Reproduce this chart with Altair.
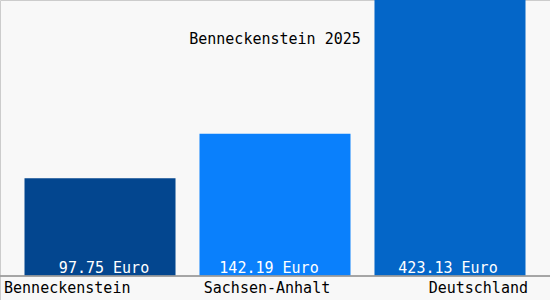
import altair as alt
import pandas as pd

categories = ["Benneckenstein", "Sachsen-Anhalt", "Deutschland"]
values = [97.75, 142.19, 423.13]
value_labels = ["97.75 Euro", "142.19 Euro", "423.13 Euro"]
colors = ["#03468f", "#0a80fc", "#0466c8"]
title_text = "Benneckenstein 2025"

df = pd.DataFrame({"cat": categories, "value": values, "label": value_labels})

FONT = "DejaVu Sans Mono"

x = alt.X("cat:N", sort=categories, axis=None,
          scale=alt.Scale(paddingInner=0.137, paddingOuter=0.14))
yscale = alt.Scale(domain=[-24, 276], nice=False, zero=False)

base = alt.Chart(df)

bars = base.mark_bar(clip=True).encode(
    x=x,
    y=alt.Y("value:Q", scale=yscale, axis=None),
    y2=alt.datum(0),
    color=alt.Color("cat:N", scale=alt.Scale(domain=categories, range=colors), legend=None),
)

baseline = base.mark_rule(color="#9a9a9a", strokeWidth=1).encode(y=alt.datum(0))


def value_label(name, dx):
    return base.transform_filter(alt.datum.cat == name).mark_text(
        color="white", font=FONT, fontSize=15, baseline="alphabetic",
        align="center", dx=dx, dy=-3).encode(x=x, y=alt.datum(0), text="label:N")


def cat_label(name, align, dx):
    return base.transform_filter(alt.datum.cat == name).mark_text(
        color="black", font=FONT, fontSize=15, baseline="alphabetic",
        align=align, dx=dx, dy=17).encode(x=x, y=alt.datum(0), text="cat:N")


vlabels = (value_label(categories[0], 4)
           + value_label(categories[1], -6)
           + value_label(categories[2], -2))

clabels = (cat_label(categories[0], "left", -96)
           + cat_label(categories[1], "center", -8)
           + cat_label(categories[2], "right", 78))

chart = alt.layer(bars, baseline, vlabels, clabels).properties(
    width=550, height=300,
    title=alt.TitleParams(title_text, font=FONT, fontSize=15, fontWeight="normal",
                          color="black", anchor="middle", offset=-47),
    autosize=alt.AutoSizeParams(type="none"),
    padding=0,
    background="#f8f8f8",
).configure_view(stroke="#cccccc", strokeWidth=1)

chart.save("out.html", embed_options={"renderer": "svg", "actions": False})
